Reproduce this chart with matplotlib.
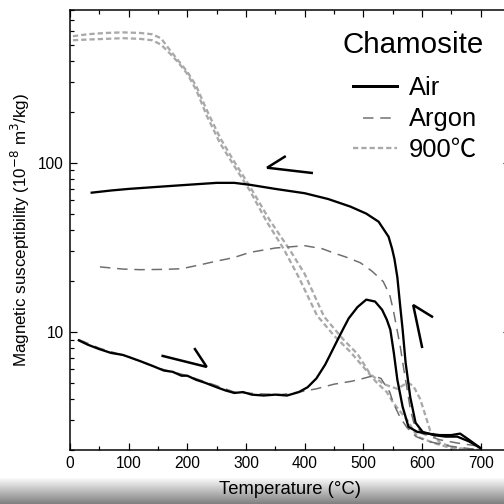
import numpy as np
import matplotlib
matplotlib.use('Agg')
import matplotlib.pyplot as plt
from matplotlib.lines import Line2D

plt.rcParams['font.family'] = ['Liberation Sans', 'Noto Sans CJK JP', 'DejaVu Sans']

# Air - heating
air_heat_T = [15, 30, 50, 70, 90, 100, 120, 140, 160, 175, 190, 200, 215, 230, 250, 265, 280, 295,
              310, 330, 350, 370, 390, 405, 420, 435, 445, 455, 465, 475, 490, 505, 520, 532,
              540, 546, 552, 558, 567, 577, 592, 610, 630, 650, 665, 680, 700]
air_heat_chi = [8.9, 8.4, 7.9, 7.5, 7.3, 7.1, 6.7, 6.3, 5.9, 5.8, 5.5, 5.5, 5.2, 5.0, 4.7, 4.5, 4.35, 4.4,
                4.25, 4.2, 4.25, 4.2, 4.4, 4.7, 5.3, 6.4, 7.5, 8.8, 10.3, 12.0, 14.0, 15.5, 15.1, 13.5,
                11.8, 10.3, 7.5, 5.2, 3.6, 2.74, 2.56, 2.5, 2.45, 2.45, 2.5, 2.3, 2.05]

# Air - cooling
air_cool_T = [37, 70, 100, 150, 200, 250, 280, 307, 350, 400, 440, 478, 505, 526, 543, 549,
              553, 558, 563, 567, 572, 580, 589, 601, 620, 640, 660, 680, 700]
air_cool_chi = [66.5, 68.5, 70, 72, 74, 76, 76, 74, 70, 66, 61, 55, 50, 44.8, 36.5, 31,
                27, 21, 14, 10.3, 6.6, 4.1, 2.9, 2.56, 2.45, 2.4, 2.4, 2.25, 2.05]

# Argon - heating
argon_heat_T = [15, 50, 100, 150, 200, 250, 280, 320, 360, 390, 420, 450, 480, 500, 517, 530,
                545, 551, 563, 575, 590, 610, 650, 700]
argon_heat_chi = [9.0, 8.0, 7.1, 6.1, 5.5, 4.8, 4.4, 4.3, 4.25, 4.4, 4.6, 4.9, 5.1, 5.3, 5.5, 5.3,
                  4.4, 3.8, 3.1, 2.7, 2.4, 2.25, 2.1, 2.0]

# Argon - cooling
argon_cool_T = [51, 90, 120, 160, 190, 222, 250, 278, 307, 350, 400, 430, 449, 470, 495, 515,
                534, 545, 551, 557, 563, 569, 575, 580, 586, 600, 630, 660, 700]
argon_cool_chi = [24.2, 23.5, 23.3, 23.4, 23.6, 24.9, 26.2, 27.4, 29.5, 31.3, 32.3, 31.0, 29.3, 27.7, 25.6, 22.8,
                  19.8, 16.5, 13.5, 10.5, 8.15, 6.0, 4.5, 3.5, 2.9, 2.5, 2.3, 2.2, 2.1]

# 900 C - first run
h900a_T = [5, 30, 60, 90, 120, 140, 155, 171, 185, 200, 215, 233, 256, 278, 307, 335, 364, 390,
           421, 450, 478, 500, 523, 540, 551, 575, 592, 620, 650, 690]
h900a_chi = [530, 535, 540, 545, 540, 530, 500, 440, 390, 335, 270, 190, 130, 98, 68, 45, 31, 21,
             12.5, 9.5, 7.6, 6.2, 5.0, 4.4, 3.8, 3.0, 2.4, 2.2, 2.05, 2.0]

# 900 C - second run
h900b_T = [5, 30, 60, 90, 120, 140, 155, 171, 185, 200, 215, 233, 256, 278, 307, 340, 376, 400,
           433, 466, 490, 512, 535, 558, 575, 585, 597, 614, 631, 660, 700]
h900b_chi = [560, 575, 585, 590, 585, 575, 545, 460, 400, 345, 285, 205, 140, 104, 72, 46, 30, 22,
             12.3, 9.0, 7.4, 5.6, 4.9, 4.6, 5.0, 4.8, 4.0, 2.6, 2.2, 2.05, 2.0]

# direction chevrons (data coordinates)
arrow1_T = [412, 336, 366]
arrow1_chi = [87, 93.4, 108.5]
arrow2_T = [158, 233, 213]
arrow2_chi = [7.2, 6.2, 7.9]
arrow3_T = [600, 585, 617]
arrow3_chi = [8.15, 14.4, 12.3]

legend_title = 'Chamosite'
legend_labels = ['Air', 'Argon', '900\u2103']

W = 504.0
fig = plt.figure(figsize=(7, 7), dpi=72)
ax = fig.add_axes([70 / W, 54 / W, 440 / W, 440 / W])

s900 = dict(color='#a9a9a9', lw=2.3, dashes=(2.3, 1.3))
sarg = dict(color='#6e6e6e', lw=1.5, dashes=(7, 4.5))
sair = dict(color='black', lw=2.3)

ax.plot(h900a_T, h900a_chi, **s900)
ax.plot(h900b_T, h900b_chi, **s900)
ax.plot(argon_heat_T, argon_heat_chi, **sarg)
ax.plot(argon_cool_T, argon_cool_chi, **sarg)
ax.plot(air_heat_T, air_heat_chi, **sair)
ax.plot(air_cool_T, air_cool_chi, **sair)

for aT, ac in [(arrow1_T, arrow1_chi), (arrow2_T, arrow2_chi), (arrow3_T, arrow3_chi)]:
    ax.plot(aT, ac, color='black', lw=2.5, solid_joinstyle='miter')

ax.set_yscale('log')
ax.set_xlim(0, 750)
ax.set_ylim(2, 800)
ax.set_xticks(np.arange(0, 701, 100))
ax.set_xticks(np.arange(50, 751, 100), minor=True)
ax.set_yticks([10, 100])
ax.set_yticklabels(['10', '100'])
ax.yaxis.set_minor_formatter(matplotlib.ticker.NullFormatter())
ax.tick_params(which='both', direction='in', top=True, right=True, labelsize=15.5, width=1.2)
ax.tick_params(which='major', length=7, pad=6)
ax.tick_params(which='minor', length=4)
for s in ax.spines.values():
    s.set_linewidth(1.5)

ax.set_xlabel('Temperature (\u00b0C)', fontsize=18.5, labelpad=10)
ax.set_ylabel('Magnetic susceptibility (10$^{-8}$ m$^3$/kg)', fontsize=17, labelpad=6)

# legend, placed by hand in pixel positions
def px(x, y):
    return x / W, 1 - y / W

fig.text(*px(484, 53), legend_title, fontsize=29.5, ha='right', va='baseline')
legend_rows = [(95, 86, 353, 397, dict(sair, lw=3)), (126, 118, 363, 393, sarg),
               (157, 148, 353, 397, s900)]
for lab, (base, ly, x0, x1, st) in zip(legend_labels, legend_rows):
    fig.text(*px(409, base), lab, fontsize=25.5, ha='left', va='baseline')
    (fx0, fy), (fx1, _) = px(x0, ly), px(x1, ly)
    fig.add_artist(Line2D([fx0, fx1], [fy, fy], transform=fig.transFigure, **st))

# screenshot shadow strip along the bottom
band = fig.add_axes([0, 0, 1, 26 / W], zorder=-1)
grad = np.linspace(0.98, 0.5, 50).reshape(-1, 1)
band.imshow(grad, aspect='auto', cmap='gray', vmin=0, vmax=1, extent=(0, 1, 0, 1), origin='upper')
band.axis('off')

fig.savefig('out.png', dpi=72, facecolor='white')
